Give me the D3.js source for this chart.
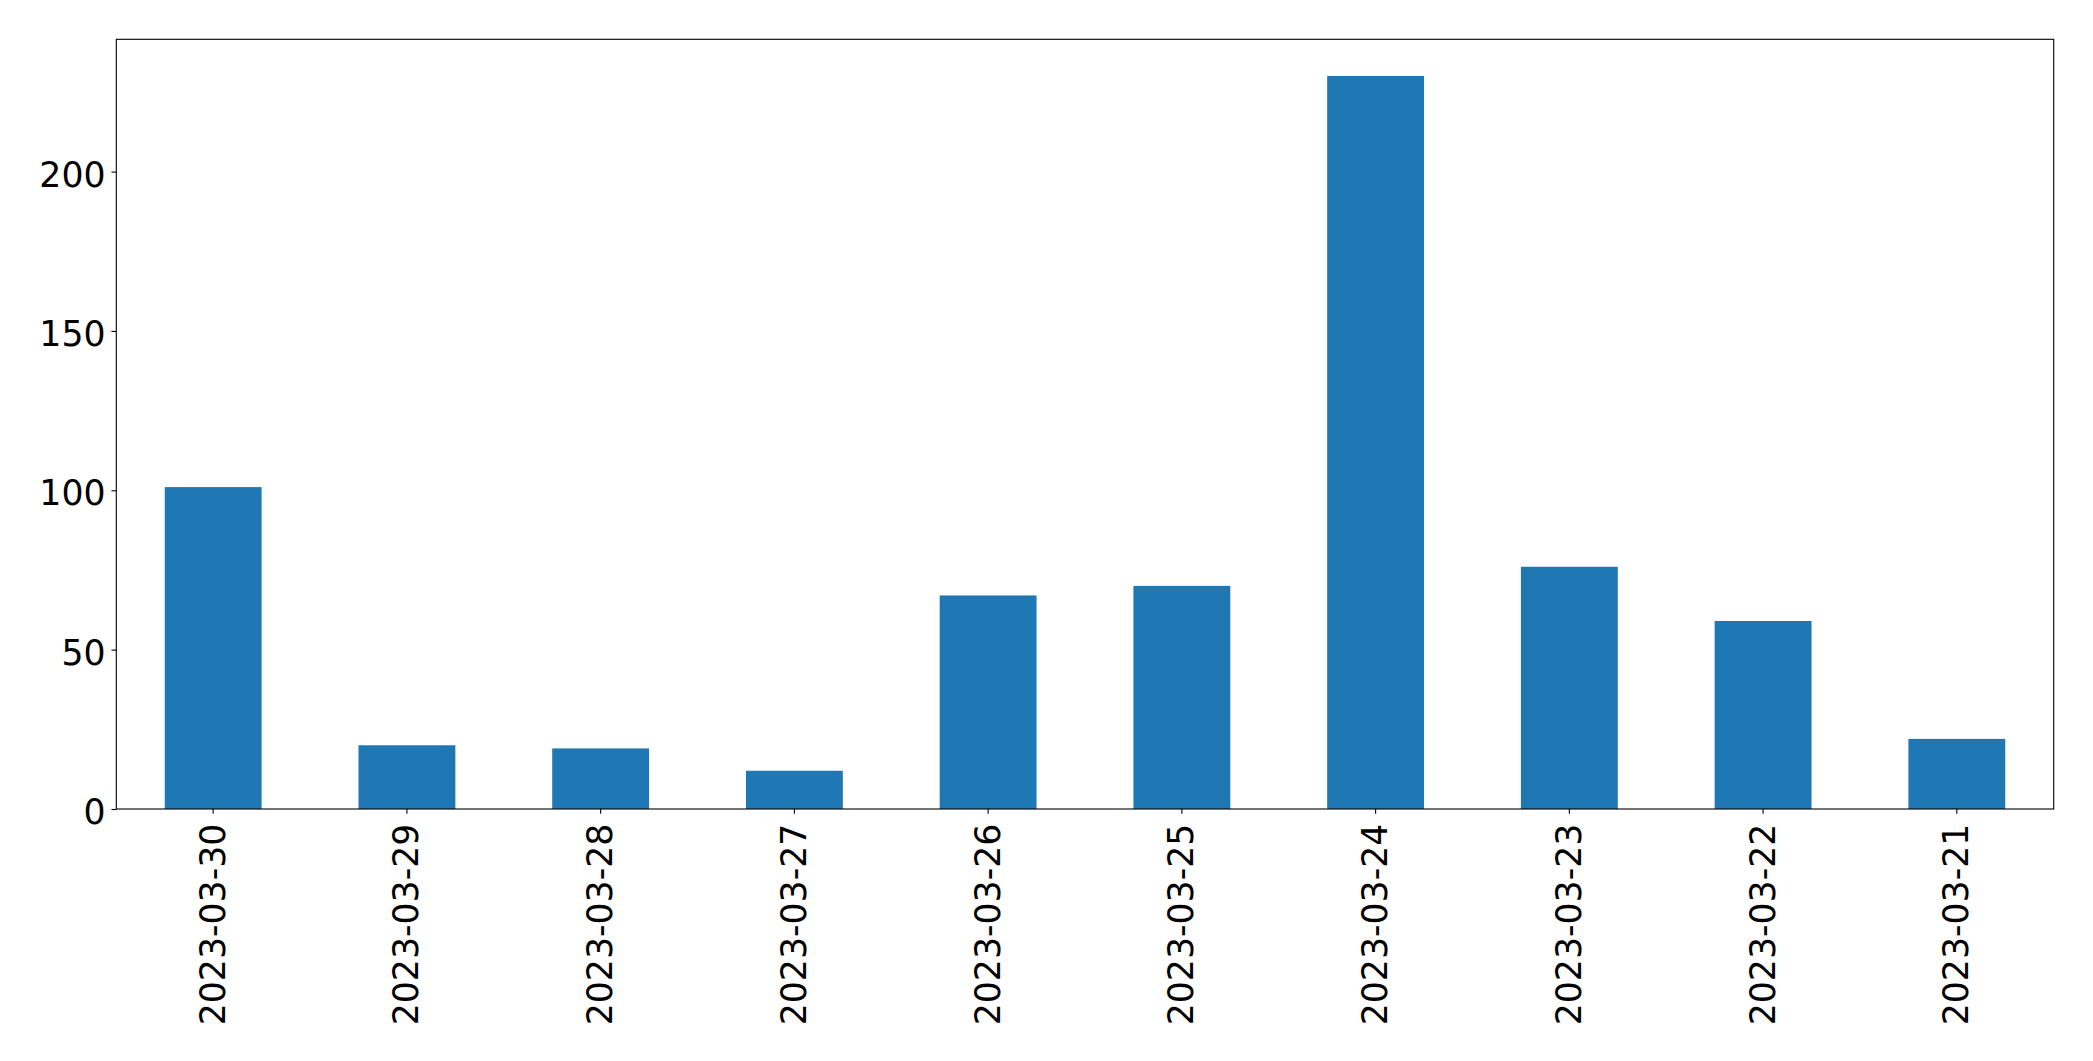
<!DOCTYPE html>
<html>
<head>
<meta charset="utf-8">
<script src="https://cdn.jsdelivr.net/npm/d3@7"></script>
<style>
  html, body { margin: 0; padding: 0; background: #fff; }
  svg { display: block; }
  text { font-family: "DejaVu Sans", sans-serif; fill: #000; }
</style>
</head>
<body>
<svg id="chart" width="2093" height="1061"></svg>
<script>
const categories = ["2023-03-30", "2023-03-29", "2023-03-28", "2023-03-27", "2023-03-26",
                    "2023-03-25", "2023-03-24", "2023-03-23", "2023-03-22", "2023-03-21"];
const values = [101, 20, 19, 12, 67, 70, 230, 76, 59, 22];
const yTicks = [0, 50, 100, 150, 200];

const W = 2093, H = 1061;
const margin = { left: 116.3, right: W - 2053.7, top: 39.3, bottom: H - 809 };
const svg = d3.select("#chart");
const iw = W - margin.left - margin.right;
const ih = H - margin.top - margin.bottom;
const g = svg.append("g").attr("transform", `translate(${margin.left},${margin.top})`);

const x = d3.scaleBand().domain(categories).range([0, iw]).paddingInner(0.5).paddingOuter(0.25);
const ymax = d3.max(values) * 1.05;
const y = d3.scaleLinear().domain([0, ymax]).range([ih, 0]);

g.selectAll("rect.bar").data(values).join("rect")
  .attr("class", "bar")
  .attr("x", (d, i) => x(categories[i]))
  .attr("width", x.bandwidth())
  .attr("y", d => y(d))
  .attr("height", d => ih - y(d))
  .attr("fill", "#1f77b4");

const tickLen = 4.86;
const fs = "34.7px";

const yAxis = g.append("g")
  .call(d3.axisLeft(y).tickValues(yTicks).tickFormat(d3.format("d")).tickSize(tickLen).tickPadding(5.9));
yAxis.select(".domain").remove();
yAxis.selectAll("line").attr("stroke", "#000").attr("stroke-width", 1.1);
yAxis.selectAll("text").style("font-size", fs).attr("dy", "0.42em");

const xAxis = g.append("g").attr("transform", `translate(0,${ih})`)
  .call(d3.axisBottom(x).tickSize(tickLen).tickPadding(5));
xAxis.select(".domain").remove();
xAxis.selectAll("line").attr("stroke", "#000").attr("stroke-width", 1.1);
xAxis.selectAll("text")
  .style("font-size", fs)
  .attr("transform", "rotate(-90)")
  .attr("text-anchor", "end")
  .attr("x", -14.7)
  .attr("y", 0)
  .attr("dy", "0.33em");

g.append("rect")
  .attr("x", 0).attr("y", 0).attr("width", iw).attr("height", ih)
  .attr("fill", "none").attr("stroke", "#000").attr("stroke-width", 1.1);
</script>
</body>
</html>
